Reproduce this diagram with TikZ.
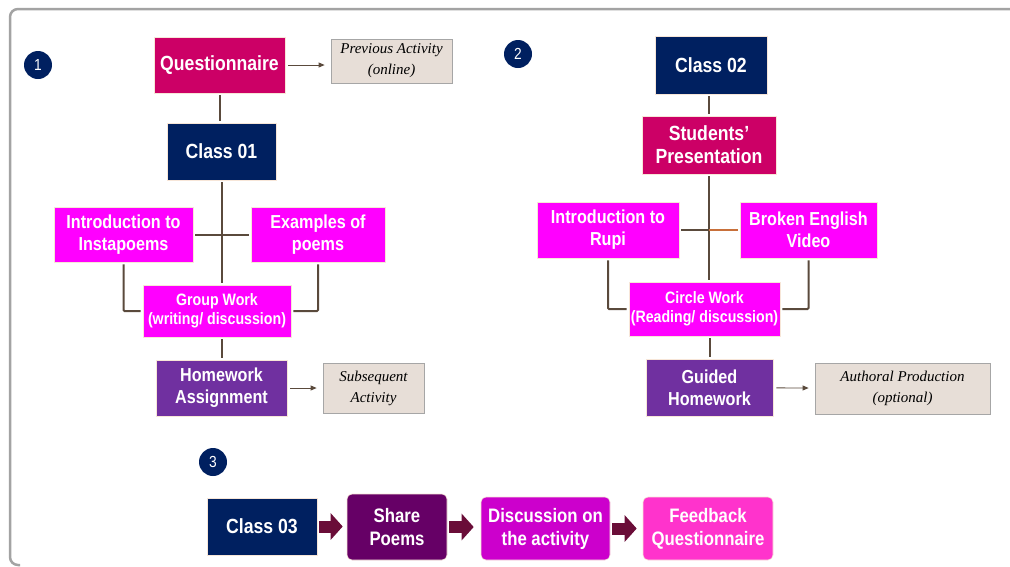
\documentclass[tikz,border=0pt]{standalone}
\usepackage{fontspec}
\setmainfont{Liberation Sans}[FakeStretch=0.86]
\newfontfamily\handfont{Liberation Serif}
\usepackage{tikz}
\usetikzlibrary{arrows.meta}

\definecolor{navy}{HTML}{002060}
\definecolor{crimson}{HTML}{CC0066}
\definecolor{magentabox}{HTML}{FF00FF}
\definecolor{purplebox}{HTML}{7030A0}
\definecolor{beige}{HTML}{E7DED7}
\definecolor{beigeedge}{HTML}{A6A6A6}
\definecolor{linkbrown}{HTML}{5A4A3C}
\definecolor{linkorange}{HTML}{C8703A}
\definecolor{maroon}{HTML}{6A0D38}
\definecolor{sharecol}{HTML}{660066}
\definecolor{discol}{HTML}{CC00CC}
\definecolor{feedcol}{HTML}{FF33CC}
\definecolor{framegray}{HTML}{A3A3A3}
\definecolor{boxedge}{HTML}{F7E6D8}

\begin{document}
\begin{tikzpicture}[x=1pt, y=-1pt,
  box/.style={draw=boxedge, line width=0.6, inner sep=0, align=center, text=white,
              font=\bfseries\fontsize{18.8}{22}\selectfont},
  bigbox/.style={box, font=\bfseries\fontsize{20.5}{23}\selectfont},
  smallbox/.style={box, font=\bfseries\fontsize{16.5}{19}\selectfont},
  flowbox/.style={box, rounded corners=5, font=\bfseries\fontsize{19.5}{23}\selectfont},
  note/.style={draw=beigeedge, fill=beige, line width=0.8, inner sep=0, align=center,
               font=\handfont\itshape\fontsize{15}{21}\selectfont},
  num/.style={circle, fill=navy, minimum size=28, inner sep=0, text=white,
              font=\fontsize{16}{16}\selectfont},
  link/.style={draw=linkbrown, line width=2, shorten <=2, shorten >=2},
  arr/.style={draw=linkbrown, line width=0.8, -{Triangle[length=6pt, width=5pt]},
              shorten <=3, shorten >=6},
  fat/.style={draw=maroon, line width=12, -{Triangle[length=12pt, width=26pt]},
              shorten <=2, shorten >=4}
]
  \useasboundingbox (0,0) rectangle (1010,566);
  \draw[framegray, line width=2.5, rounded corners=8]
    (20,565) -- (10,565) -- (10,9) -- (1014,9);

  % part 1
  \node[num] (n1) at (38,65) {1};
  \node[bigbox, fill=crimson, minimum width=131, minimum height=56] (quest1) at (219.5,65) {Questionnaire};
  \node[note, minimum width=121, minimum height=44] (prev1) at (391.5,61) {Previous Activity\\(online)};
  \node[bigbox, fill=navy, minimum width=109, minimum height=57] (class1) at (221.5,151.5) {Class 01};
  \node[box, fill=magentabox, minimum width=139, minimum height=55] (intro1) at (123.5,234.5) {Introduction to\\Instapoems};
  \node[box, fill=magentabox, minimum width=134, minimum height=55] (examples1) at (318,234.5) {Examples of\\poems};
  \node[smallbox, fill=magentabox, minimum width=148, minimum height=52] (group1) at (217,311) {Group Work\\(writing/ discussion)};
  \node[box, fill=purplebox, minimum width=131, minimum height=56] (homework1) at (221.5,388) {Homework\\Assignment};
  \node[note, minimum width=101, minimum height=50] (subseq1) at (373.5,388) {Subsequent\\Activity};

  \draw[arr] (quest1) -- (prev1.west |- quest1);
  \draw[link] (quest1) -- (quest1.south |- class1.north);
  \draw[link] (class1) -- (class1.south |- group1.north);
  \draw[link] (intro1) -- (examples1);
  \draw[link, rounded corners=1] (intro1.south) |- (group1.west);
  \draw[link, rounded corners=1] (examples1.south) |- (group1.east);
  \draw[link] (group1.south -| homework1) -- (homework1);
  \draw[arr] (homework1) -- (subseq1);

  % part 2
  \node[num] (n2) at (518,54) {2};
  \node[bigbox, fill=navy, minimum width=112, minimum height=58] (class2) at (711,65) {Class 02};
  \node[bigbox, fill=crimson, minimum width=134, minimum height=58] (present2) at (709,145) {Students'\\Presentation};
  \node[box, fill=magentabox, minimum width=142, minimum height=56] (rupi2) at (608,230) {Introduction to\\Rupi};
  \node[box, fill=magentabox, minimum width=137, minimum height=56] (broken2) at (808.5,230) {Broken English\\Video};
  \node[smallbox, fill=magentabox, minimum width=151, minimum height=54] (circle2) at (704.5,309) {Circle Work\\(Reading/ discussion)};
  \node[box, fill=purplebox, minimum width=127, minimum height=57] (guided2) at (709.5,387.5) {Guided\\Homework};
  \node[note, minimum width=175, minimum height=51] (author2) at (902.5,388.5) {Authoral Production\\(optional)};

  \draw[link] (class2.south -| present2) -- (present2);
  \draw[link] (present2) -- (present2.south |- circle2.north);
  \draw[link] (rupi2) -- (broken2);
  \draw[link, draw=linkorange, shorten <=0] (present2.south |- broken2.west) -- (broken2.west);
  \draw[link, rounded corners=1] (rupi2.south) |- (circle2.west);
  \draw[link, rounded corners=1] (broken2.south) |- (circle2.east);
  \draw[link] (circle2.south -| guided2) -- (guided2);
  \draw[arr] (guided2) -- (author2);

  % part 3
  \node[num] (n3) at (213,462) {3};
  \node[bigbox, fill=navy, minimum width=110, minimum height=57] (class3) at (262,526.5) {Class 03};
  \node[flowbox, fill=sharecol, minimum width=100, minimum height=66] (share3) at (397,527) {Share\\Poems};
  \node[flowbox, fill=discol, minimum width=129, minimum height=63] (discuss3) at (545.5,528.5) {Discussion on\\the activity};
  \node[flowbox, fill=feedcol, minimum width=130, minimum height=63] (feed3) at (708,528.5) {Feedback\\Questionnaire};

  \draw[fat] (class3) -- (share3.west |- class3);
  \draw[fat, shorten >=7] (share3) -- (discuss3.west |- share3);
  \draw[fat, shorten >=6] (discuss3) -- (feed3);
\end{tikzpicture}
\end{document}
